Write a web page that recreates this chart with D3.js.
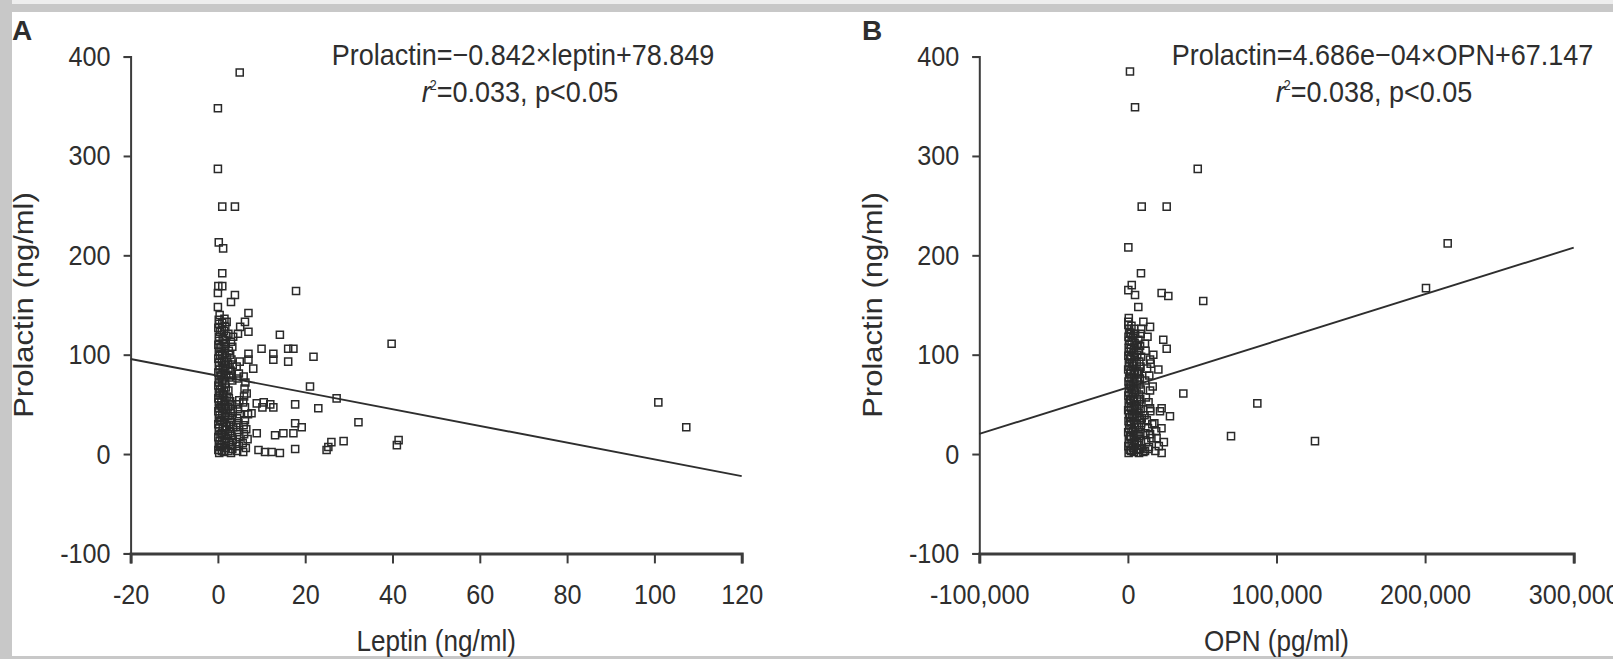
<!DOCTYPE html>
<html><head><meta charset="utf-8">
<script src="https://cdn.jsdelivr.net/npm/d3@7"></script>
<style>
html,body{margin:0;padding:0;background:#fff;}
svg{display:block;}
text{font-family:"Liberation Sans",Arial,Helvetica,sans-serif;fill:#2e2e2e;}
</style></head><body>
<svg id="chart" width="1613" height="659"></svg>
<script>
// ---------------- DATA ----------------
const yTicks = [-100, 0, 100, 200, 300, 400];
const xTicksA = [-20, 0, 20, 40, 60, 80, 100, 120];
const xTicksB = [-100000, 0, 100000, 200000, 300000];

// Panel A: [leptin ng/ml, prolactin ng/ml]
const outliersA = [
 [5.0,384],[0.0,348],[0.0,287],[1.0,249],[3.9,249],[0.2,213],[1.2,207],[1.0,182],[0.1,169],[1.0,169],
 [0.0,162],[17.9,164],[3.9,160],[3.0,153],[0.0,148],[7.0,142],[6.2,133],[5.1,128],[2.0,133],[7.0,123],
 [4.6,121],[14.2,120],[10.0,106],[12.7,101],[16.1,106],[17.3,106],[21.9,98],[12.7,95],[16.1,93],[7.0,101],
 [7.0,95],[8.1,86],[2.4,86],[21.1,68],[27.2,56],[17.7,50],[23.0,46],[10.5,52],[12.0,50],[10.2,47],
 [12.7,47],[8.9,51],[7.7,41],[6.2,34],[17.7,31],[19.2,27],[17.3,21],[13.1,19],[15.0,21],[8.9,21],
 [9.3,4],[10.8,2],[12.3,2],[14.2,1],[17.7,5],[24.9,4],[25.3,7],[26.0,12],[28.8,13],[32.2,32],
 [39.8,111],[41.0,9],[41.4,14],[100.9,52],[107.3,27]
];
const clusterA = [
 [0.3,1],[0.1,4],[0.5,7],[0.2,10],[0.4,13],[0.1,17],[0.6,20],[0.2,23],[0.3,26],[0.1,30],
 [0.5,33],[0.2,36],[0.4,39],[0.1,43],[0.3,46],[0.6,49],[0.2,52],[0.1,56],[0.4,59],[0.2,62],
 [0.5,65],[0.1,69],[0.3,72],[0.2,75],[0.6,78],[0.1,82],[0.4,85],[0.2,89],[0.3,92],[0.1,96],
 [0.5,99],[0.2,103],[0.4,107],[0.1,110],[0.3,114],[0.2,118],[0.5,123],[0.1,127],[0.3,131],[0.2,135],[0.4,140],
 [0.9,3],[0.8,9],[1.0,14],[0.9,21],[1.1,27],[0.8,34],[1.0,41],[0.9,47],[0.8,54],[1.1,60],
 [0.9,67],[1.0,73],[0.8,80],[1.1,87],[0.9,94],[1.0,100],[0.8,108],[1.1,116],[0.9,125],[1.0,132],
 [1.4,2],[1.8,6],[1.5,11],[1.9,15],[1.3,19],[1.7,24],[2.0,28],[1.4,32],[1.6,37],[1.9,41],
 [1.3,45],[1.7,50],[1.5,54],[2.0,58],[1.4,63],[1.8,67],[1.6,71],[1.3,76],[1.9,80],[1.5,84],
 [1.7,89],[1.4,93],[2.0,97],[1.6,102],[1.3,106],[1.8,111],[1.5,115],[1.9,119],[1.4,124],[1.7,128],[1.5,136],
 [2.4,3],[2.5,12],[2.3,20],[2.6,29],[2.4,38],[2.3,47],[2.5,56],[2.4,64],[2.6,77],[2.3,91],[2.5,104],[2.4,121],
 [3.0,1],[3.3,5],[2.9,9],[3.4,14],[3.1,18],[2.8,23],[3.5,27],[3.0,32],[3.2,36],[2.9,41],
 [3.4,45],[3.1,50],[2.8,53],[3.3,74],[3.0,79],[2.9,84],[3.4,90],[3.1,95],[2.8,100],[3.3,108],[3.0,113],[3.5,118],
 [4.4,3],[4.8,8],[4.3,12],[4.9,17],[4.5,22],[4.2,27],[4.7,31],[4.4,36],[5.0,40],[4.6,45],
 [4.3,50],[4.9,54],[6.0,58],[6.1,66],[4.5,76],[4.8,81],[4.3,88],[5.0,93],
 [5.8,2],[6.4,6],[5.7,11],[6.8,15],[6.0,20],[6.5,25],[5.9,29],[6.9,40],[6.2,47],[5.8,52],
 [6.6,61],[6.3,72],[5.9,78]
];
const slopeA = -0.842, interceptA = 78.849;

// Panel B: [OPN pg/ml, prolactin ng/ml]
const outliersB = [
 [1400,385],[4800,349],[47000,287],[9300,249],[26100,249],[300,208],[8800,182],[2600,170],[300,165],[4800,160],
 [22700,162],[27200,159],[50700,154],[215200,212],[200600,167],[7000,148],[300,133],[10400,133],[14900,128],[11500,111],
 [23800,115],[26100,106],[17100,100],[14900,95],[20500,85],[7000,81],[37300,61],[14900,64],[87100,51],[22700,46],
 [21600,43],[28300,38],[14900,46],[9300,36],[69400,18],[125900,13],[19000,23],[14900,20],[22700,1],[13800,5],[10400,2]
];
const clusterB = [
 [500,1],[1200,4],[300,8],[900,11],[600,15],[1400,18],[200,22],[800,26],[1100,29],[400,33],
 [1300,37],[700,40],[200,44],[1000,48],[500,51],[1400,55],[300,59],[900,62],[600,66],[1200,70],
 [400,73],[800,77],[1500,81],[200,85],[1000,88],[600,92],[1300,96],[300,99],[900,103],[500,107],
 [1100,110],[700,114],[400,118],[1200,122],[800,126],[300,130],[600,137],
 [2200,3],[2500,10],[2100,17],[2400,25],[2000,32],[2600,39],[2300,46],[2100,54],[2500,61],[2200,68],
 [2400,76],[2000,83],[2600,91],[2300,98],[2100,106],[2500,113],[2200,121],[2400,129],
 [4000,2],[3600,6],[4700,10],[3900,14],[4400,19],[3500,23],[4800,27],[4100,31],[3700,36],[4500,40],
 [3800,45],[4900,49],[4200,53],[3600,57],[4600,62],[4000,66],[3700,71],[4400,75],[3900,80],[4800,84],
 [3500,89],[4300,93],[4700,98],[3800,102],[4100,107],[4500,112],[3600,117],[4900,121],[4200,126],
 [6000,4],[6200,12],[5800,20],[6100,29],[5900,37],[6300,46],[6000,55],[5800,64],[6200,73],[6100,82],
 [5900,91],[6300,100],[6000,110],
 [7500,1],[8200,5],[7100,9],[8800,13],[7700,18],[8400,22],[7300,27],[8900,31],[7900,36],[7200,41],
 [8600,45],[7600,50],[8300,55],[7400,60],[8700,65],[7800,70],[8100,76],[7300,83],[8500,88],[7700,93],
 [8900,98],[7500,104],[8200,109],[7100,115],[8600,121],[9000,126],
 [11500,3],[14200,7],[12300,12],[15800,16],[11800,21],[13500,26],[16400,30],[12700,34],[11200,39],[15100,43],
 [13900,52],[12100,57],[16700,68],[11600,74],[14400,79],[12900,86],[15300,91],[11900,104],[13200,118],
 [18500,3],[20800,8],[24200,12],[19300,16],[22600,26],[17800,31]
];
const slopeB = 4.686e-4, interceptB = 67.147;

// ---------------- DRAWING ----------------
const W = 1613, H = 659, SQ = 0.9, INK = "#2e2e2e", AX = "#3c3c3c";
const svg = d3.select("#chart");

svg.append("rect").attr("width", W).attr("height", H).attr("fill", "#fff");
svg.append("rect").attr("x", 0).attr("y", 0).attr("width", W).attr("height", 4).attr("fill", "#eeeeee");
svg.append("rect").attr("x", 0).attr("y", 4).attr("width", W).attr("height", 8).attr("fill", "#c8c8c8");
svg.append("rect").attr("x", 0).attr("y", 0).attr("width", 12).attr("height", H).attr("fill", "#c8c8c8");
svg.append("rect").attr("x", 0).attr("y", H - 3).attr("width", W).attr("height", 3).attr("fill", "#c8c8c8");

const y = d3.scaleLinear().domain([-100, 400]).range([553.4, 56.6]);
const xA = d3.scaleLinear().domain([-20, 120]).range([130.6, 741.7]);
const xB = d3.scaleLinear().domain([-100000, 300000]).range([979.3, 1573.7]);

const dash = s => s.replace(/\u2212/g, "-");

function squeezedText(parent, x, yy, size, anchor, str, opts = {}) {
  const sx = opts.noSqueeze ? 1 : SQ;
  const g = parent.append("g").attr("transform", `translate(${x},${yy}) scale(${sx},1)` + (opts.rotate ? ` rotate(${opts.rotate})` : ""));
  const t = g.append("text").attr("text-anchor", anchor).attr("font-size", size).attr("fill", INK);
  if (opts.bold) t.attr("font-weight", "bold");
  if (str !== null) t.text(str);
  return t;
}

function panel(x, ticks, fmt, data, slope, intercept, cfg) {
  const g = svg.append("g");
  // axes
  const ya = g.append("g").attr("transform", `translate(${x.range()[0]},0)`)
    .call(d3.axisLeft(y).tickValues(yTicks).tickSize(7).tickPadding(13).tickFormat(d => dash(String(d))));
  ya.attr("font-family", null);
  ya.select(".domain").attr("stroke", AX).attr("stroke-width", 2);
  ya.selectAll(".tick line").attr("stroke", AX).attr("stroke-width", 2);
  ya.selectAll(".tick text").attr("font-size", 28).attr("fill", INK)
    .attr("x", -20 / SQ).attr("transform", `scale(${SQ},1)`);

  const xa = g.append("g").attr("transform", `translate(0,${y(-100)})`)
    .call(d3.axisBottom(x).tickValues(ticks).tickSize(10).tickPadding(21).tickFormat(fmt));
  xa.attr("font-family", null);
  xa.select(".domain").attr("stroke", AX).attr("stroke-width", 3);
  xa.selectAll(".tick line").attr("stroke", AX).attr("stroke-width", 2);
  xa.selectAll(".tick text").attr("font-size", 28).attr("fill", INK)
    .attr("transform", `scale(${SQ},1)`);

  // regression line
  const dom = x.domain();
  const lineData = dom.map(v => [v, slope * v + intercept]);
  g.append("path").attr("d", d3.line().x(d => x(d[0])).y(d => y(d[1]))(lineData))
    .attr("stroke", "#2e2e2e").attr("stroke-width", 1.9).attr("fill", "none");

  // points
  const sym = d3.symbol().type(d3.symbolSquare).size(50);
  g.append("g").selectAll("path").data(data).join("path")
    .attr("transform", d => `translate(${x(d[0])},${y(d[1])})`)
    .attr("d", sym).attr("fill", "none").attr("stroke", "#2a2a2a").attr("stroke-width", 1.5);

  // titles
  const x0 = x.range()[0], x1 = x.range()[1];
  squeezedText(g, (x0 + x1) / 2, 651, 29, "middle", cfg.xTitle);
  squeezedText(g, cfg.yTitleX, (y.range()[0] + y.range()[1]) / 2, 31, "middle", "Prolactin (ng/ml)", { rotate: -90 });
  squeezedText(g, cfg.letterX, 40, 28, "start", cfg.letter, { bold: true, noSqueeze: true });

  // equation
  squeezedText(g, cfg.eqX, 65, 30, "middle", cfg.eq);
  const t2 = squeezedText(g, cfg.eq2X, 102, 30, "middle", null);
  t2.append("tspan").attr("font-style", "italic").text("r");
  t2.append("tspan").attr("font-size", 14).attr("dx", -1).attr("dy", -12).text("2");
  t2.append("tspan").attr("dx", 0).attr("dy", 12).text(cfg.stat);
}

panel(xA, xTicksA, d => dash(String(d)), outliersA.concat(clusterA), slopeA, interceptA, {
  xTitle: "Leptin (ng/ml)", yTitleX: 33, letterX: 12, letter: "A",
  eqX: 523, eq: "Prolactin=\u22120.842\u00d7leptin+78.849", eq2X: 520, stat: "=0.033, p<0.05"
});
panel(xB, xTicksB, d => dash(d3.format(",")(d)), outliersB.concat(clusterB), slopeB, interceptB, {
  xTitle: "OPN (pg/ml)", yTitleX: 882, letterX: 862, letter: "B",
  eqX: 1382.5, eq: "Prolactin=4.686e\u221204\u00d7OPN+67.147", eq2X: 1374, stat: "=0.038, p<0.05"
});
</script>
</body></html>
